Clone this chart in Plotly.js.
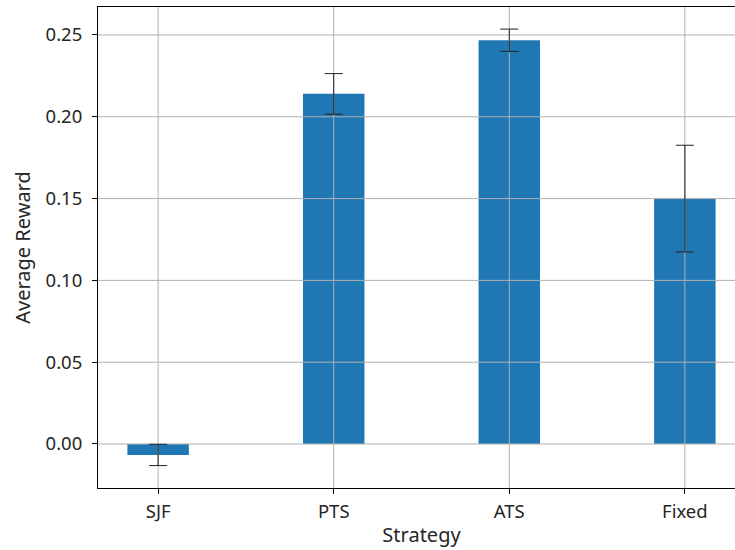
<!DOCTYPE html>
<html><head><meta charset="utf-8">
<script src="https://cdn.plot.ly/plotly-3.0.1.min.js"></script>
<style>html,body{margin:0;padding:0;overflow:hidden;background:#fff;}</style>
</head><body>
<div id="chart"></div>
<script>
const categories = ["SJF", "PTS", "ATS", "Fixed"];
const meanReward = [-0.0067, 0.2140, 0.2468, 0.1500];
const stdError = [0.0065, 0.0124, 0.0068, 0.0326];
const yTickVals = [0.00, 0.05, 0.10, 0.15, 0.20, 0.25];
const yTickText = ["0.00", "0.05", "0.10", "0.15", "0.20", "0.25"];

const xIdx = categories.map((_, i) => i);
const xRange = [-0.3425, 3.3425];
const yRange = [-0.0269, 0.2671];
const gridColor = "#b0b0b0";
const font = "Noto Sans, Open Sans, DejaVu Sans, sans-serif";

// grid lines drawn above bars (as matplotlib does here)
const gx = [], gy = [];
yTickVals.forEach(v => { gx.push(xRange[0], xRange[1], null); gy.push(v, v, null); });
xIdx.forEach(v => { gx.push(v, v, null); gy.push(yRange[0], yRange[1], null); });

const traces = [
  { type: "bar", x: xIdx, y: meanReward, width: 0.35,
    marker: { color: "#1f77b4", line: { width: 0 } }, hoverinfo: "x+y" },
  { type: "scatter", mode: "lines", x: gx, y: gy,
    line: { color: gridColor, width: 1 }, hoverinfo: "skip", connectgaps: false },
  { type: "scatter", mode: "markers", x: xIdx, y: meanReward,
    marker: { size: 1, opacity: 0 },
    error_y: { type: "data", array: stdError, visible: true, color: "#222", thickness: 1, width: 9 },
    hoverinfo: "skip" }
];

const layout = {
  width: 745, height: 550,
  margin: { l: 98, r: 0, t: 7, b: 62 },
  paper_bgcolor: "#fff", plot_bgcolor: "#fff",
  showlegend: false,
  font: { family: font, size: 19, color: "#262626" },
  xaxis: {
    range: xRange, tickmode: "array", tickvals: xIdx, ticktext: categories,
    showgrid: false, zeroline: false,
    showline: true, linecolor: "#000", linewidth: 1, mirror: true,
    ticks: "outside", ticklen: 5, tickcolor: "#000",
    tickfont: { size: 18.5 }, ticklabelstandoff: 2,
    title: { text: "Strategy", font: { size: 20 }, standoff: 5 }
  },
  yaxis: {
    range: yRange, tickmode: "array", tickvals: yTickVals, ticktext: yTickText,
    showgrid: false, zeroline: false,
    showline: true, linecolor: "#000", linewidth: 1, mirror: true,
    ticks: "outside", ticklen: 5, tickcolor: "#000",
    tickfont: { size: 18.5 }, ticklabelstandoff: 6,
    title: { text: "Average Reward", font: { size: 20 }, standoff: 9 }
  }
};

Plotly.newPlot("chart", traces, layout, { displayModeBar: false, staticPlot: true });
</script>
</body></html>
